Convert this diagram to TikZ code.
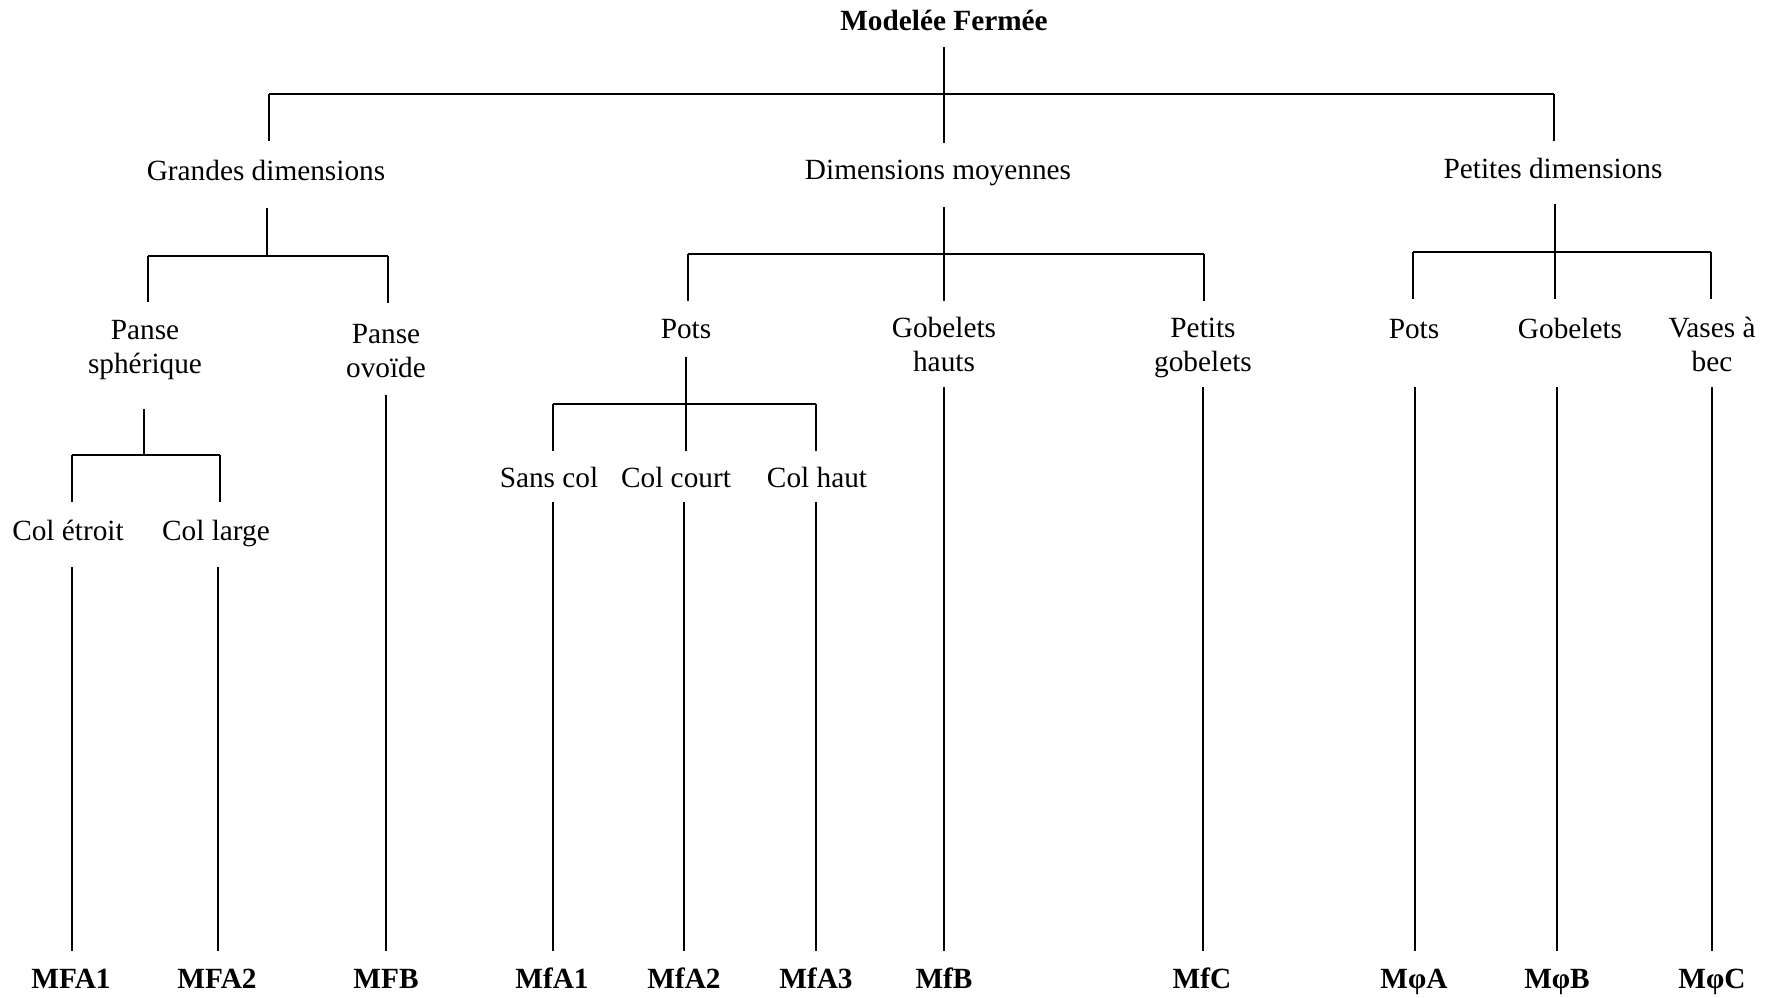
\documentclass[tikz,border=0pt]{standalone}
\usepackage{fontspec}
\setmainfont{Liberation Serif}
\begin{document}
\begin{tikzpicture}[x=0.5pt,y=-0.5pt,
  lbl/.style={anchor=base,inner sep=0pt,align=center,font=\fontsize{14.65}{17}\selectfont},
  bold/.style={lbl,font=\fontsize{14.65}{17}\selectfont\bfseries},
  stem/.style={line width=0.6pt},
  bar/.style={line width=1pt}]
\useasboundingbox (0,0) rectangle (1775,997);
% texts
\node[bold] (root) at (944,30) {Modelée Fermée};
\node[lbl] (gd) at (266,180) {Grandes dimensions};
\node[lbl] (dm) at (938,179) {Dimensions moyennes};
\node[lbl] (pd) at (1553,178) {Petites dimensions};
\node[lbl] (ps) at (145,373) {Panse\\sphérique};
\node[lbl] (po) at (386,377) {Panse\\ovoïde};
\node[lbl] (pots1) at (686,338) {Pots};
\node[lbl] (gh) at (944,371) {Gobelets\\hauts};
\node[lbl] (pg) at (1203,371) {Petits\\gobelets};
\node[lbl] (pots2) at (1414,338) {Pots};
\node[lbl] (gob) at (1570,338) {Gobelets};
\node[lbl] (vb) at (1712,371) {Vases à\\bec};
\node[lbl] (sc) at (549,487) {Sans col};
\node[lbl] (cc) at (676,487) {Col court};
\node[lbl] (ch) at (817,487) {Col haut};
\node[lbl] (ce) at (68,540) {Col étroit};
\node[lbl] (cl) at (216,540) {Col large};
\node[bold] (b1) at (71,988) {MFA1};
\node[bold] (b2) at (217,988) {MFA2};
\node[bold] (b3) at (386,988) {MFB};
\node[bold] (b4) at (552,988) {MfA1};
\node[bold] (b5) at (684,988) {MfA2};
\node[bold] (b6) at (816,988) {MfA3};
\node[bold] (b7) at (944,988) {MfB};
\node[bold] (b8) at (1202,988) {MfC};
\node[bold] (b9) at (1414,988) {MφA};
\node[bold] (b10) at (1557,988) {MφB};
\node[bold] (b11) at (1712,988) {MφC};
% root
\draw[stem] (944,47) -- (944,94);
\draw[bar] (269,94) -- (1554,94);
\draw[stem] (269,94) -- (269,141) (944,94) -- (944,143) (1554,94) -- (1554,141);
% grandes
\draw[stem] (267,208) -- (267,256);
\draw[bar] (148,256) -- (388,256);
\draw[stem] (148,256) -- (148,302) (388,256) -- (388,303);
% panse spherique
\draw[stem] (144,409) -- (144,455);
\draw[bar] (72,455) -- (220,455);
\draw[stem] (72,455) -- (72,502) (220,455) -- (220,502);
\draw[stem] (72,567) -- (72,951) (218,567) -- (218,951);
\draw[stem] (386,395) -- (386,951);
% dimensions moyennes
\draw[stem] (944,207) -- (944,254);
\draw[bar] (688,254) -- (1204,254);
\draw[stem] (688,254) -- (688,301) (944,254) -- (944,301) (1204,254) -- (1204,301);
% pots
\draw[stem] (686,357) -- (686,404);
\draw[bar] (553,404) -- (816,404);
\draw[stem] (553,404) -- (553,451) (686,404) -- (686,451) (816,404) -- (816,451);
\draw[stem] (553,502) -- (553,951) (684,502) -- (684,951) (816,502) -- (816,951);
\draw[stem] (944,387) -- (944,951) (1203,387) -- (1203,951);
% petites
\draw[stem] (1555,204) -- (1555,252);
\draw[bar] (1413,252) -- (1711,252);
\draw[stem] (1413,252) -- (1413,299) (1555,252) -- (1555,299) (1711,252) -- (1711,299);
\draw[stem] (1415,387) -- (1415,951) (1557,387) -- (1557,951) (1712,387) -- (1712,951);
\end{tikzpicture}
\end{document}
